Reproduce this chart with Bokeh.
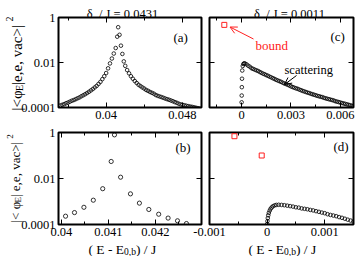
import math
from bokeh.plotting import figure
from bokeh.models import (Range1d, LinearAxis, LogAxis, FixedTicker,
                          CustomJSTickFormatter, Label, Arrow, OpenHead)
from bokeh.layouts import row, column
from bokeh.embed import file_html
from bokeh.resources import INLINE

FONT = "Liberation Serif"
RED = "#ff2020"

# ---------------- data ----------------
title_left = "δ\u00a0 / J = 0.0431"
title_right = "δ\u00a0 / J = 0.0011"
y_ticks = [1e-4, 1e-2, 1.0]

a_xticks = [0.04, 0.048]
a_xminor = [0.036, 0.044]
b_xticks = [0.04, 0.041, 0.042]
b_xminor = [0.0405, 0.0415, 0.0425]
c_xticks = [0.0, 0.003, 0.006]
c_xminor = [-0.0015, 0.0015, 0.0045]
d_xticks = [-0.001, 0.0, 0.001]
d_xminor = [-0.0005, 0.0005, 0.0015]

a_E = [0.0352, 0.0354, 0.0356, 0.0358, 0.0360, 0.0362, 0.0364, 0.0366, 0.0368, 0.0370,
       0.0372, 0.0374, 0.0376, 0.0378, 0.0380, 0.0382, 0.0384, 0.0386, 0.0388, 0.0390,
       0.0392, 0.0394, 0.0396, 0.0398, 0.0400, 0.0402, 0.0404, 0.0406, 0.0408, 0.0410,
       0.04116, 0.04126, 0.0414, 0.04155, 0.0417, 0.04185,
       0.0420, 0.0422, 0.0424, 0.0426, 0.0428, 0.0430, 0.0432, 0.0434, 0.0436, 0.0438,
       0.0440, 0.0442, 0.0444, 0.0446, 0.0448, 0.0450, 0.0452, 0.0454, 0.0456, 0.0458,
       0.0460, 0.0462, 0.0464, 0.0466, 0.0468, 0.0470, 0.0472, 0.0474, 0.0476, 0.0478,
       0.0480, 0.0482, 0.0484, 0.0486, 0.0488, 0.0490, 0.0492, 0.0494, 0.0496, 0.0498]
a_val = [1.23e-4, 1.32e-4, 1.41e-4, 1.55e-4, 1.66e-4, 1.82e-4, 2.0e-4, 2.14e-4, 2.34e-4, 2.57e-4,
         2.8e-4, 3.16e-4, 3.5e-4, 3.9e-4, 4.4e-4, 5.0e-4, 5.75e-4, 6.6e-4, 7.8e-4, 9.1e-4,
         1.12e-3, 1.38e-3, 1.82e-3, 2.45e-3, 3.4e-3, 5.5e-3, 9.1e-3, 1.5e-2, 2.5e-2, 4.4e-2,
         0.14, 0.37, 0.17, 0.056, 0.024, 0.0112,
         7.1e-3, 4.6e-3, 3.3e-3, 2.45e-3, 1.9e-3, 1.5e-3, 1.23e-3, 1.02e-3, 8.9e-4, 7.8e-4,
         6.9e-4, 6.0e-4, 5.5e-4, 4.9e-4, 4.5e-4, 4.1e-4, 3.6e-4, 3.3e-4, 3.1e-4, 2.9e-4,
         2.7e-4, 2.5e-4, 2.34e-4, 2.2e-4, 2.04e-4, 1.9e-4, 1.74e-4, 1.62e-4, 1.48e-4, 1.38e-4,
         1.32e-4, 1.26e-4, 1.2e-4, 1.15e-4, 1.1e-4, 1.07e-4, 1.02e-4, 9.8e-5, 9.3e-5, 8.9e-5]

b_E = [0.04009, 0.04028, 0.04048, 0.04068, 0.04088, 0.04106, 0.04113, 0.04126,
       0.04147, 0.04166, 0.04186, 0.04207, 0.04227, 0.04247, 0.04266]
b_val = [2.3e-4, 3.3e-4, 5.6e-4, 1.14e-3, 3.6e-3, 0.055, 0.79, 0.0114,
         2.15e-3, 8.5e-4, 4.5e-4, 2.8e-4, 1.9e-4, 1.45e-4, 1.1e-4]

c_E = [0.000003, 0.000008, 0.000015, 0.000025, 0.00004, 0.00007, 0.00011, 0.00015,
       0.0002, 0.0003, 0.0004, 0.0005, 0.0006, 0.0007, 0.0008, 0.0009, 0.0010, 0.0011,
       0.0012, 0.0013, 0.0014, 0.0015, 0.0016, 0.0017, 0.0018, 0.0019, 0.0020, 0.0021,
       0.0022, 0.0023, 0.0024, 0.0025, 0.0026, 0.0027, 0.0028, 0.0029, 0.0030, 0.0031,
       0.0032, 0.0033, 0.0034, 0.0035, 0.0036, 0.0037, 0.0038, 0.0039, 0.0040, 0.0041,
       0.0042, 0.0043, 0.0044, 0.0045, 0.0046, 0.0047, 0.0048, 0.0049, 0.0050, 0.0051,
       0.0052, 0.0053, 0.0054, 0.0055, 0.0056, 0.0057, 0.0058, 0.0059, 0.0060, 0.0061,
       0.0062, 0.0063, 0.0064, 0.0065, 0.0066, 0.0067, 0.0068]
c_val = [1.7e-4, 3.4e-4, 8.0e-4, 1.9e-3, 4.4e-3, 7.0e-3, 8.6e-3, 9.1e-3,
         9.1e-3, 8.3e-3, 7.2e-3, 6.5e-3, 5.6e-3, 5.2e-3, 4.8e-3, 4.5e-3, 4.2e-3, 3.8e-3,
         3.5e-3, 3.2e-3, 3.0e-3, 2.75e-3, 2.57e-3, 2.34e-3, 2.19e-3, 2.0e-3, 1.86e-3, 1.7e-3,
         1.58e-3, 1.48e-3, 1.38e-3, 1.26e-3, 1.17e-3, 1.1e-3, 1.02e-3, 9.5e-4, 8.7e-4, 8.1e-4,
         7.6e-4, 7.1e-4, 6.8e-4, 6.3e-4, 5.9e-4, 5.5e-4, 5.2e-4, 4.9e-4, 4.6e-4, 4.4e-4,
         4.1e-4, 3.9e-4, 3.7e-4, 3.5e-4, 3.3e-4, 3.16e-4, 3.0e-4, 2.9e-4, 2.7e-4, 2.57e-4,
         2.45e-4, 2.34e-4, 2.24e-4, 2.14e-4, 2.04e-4, 1.9e-4, 1.82e-4, 1.74e-4, 1.66e-4, 1.58e-4,
         1.51e-4, 1.45e-4, 1.38e-4, 1.32e-4, 1.26e-4, 1.2e-4, 1.15e-4]
c_bound_E = [-0.00105]
c_bound_val = [0.47]

d_E = [0.000002, 0.000006, 0.000012, 0.00002, 0.00003, 0.000045, 0.00006, 0.00008,
       0.0001, 0.00013, 0.00016, 0.0002, 0.00025, 0.0003, 0.00035, 0.0004, 0.00045,
       0.0005, 0.00055, 0.0006, 0.00065, 0.0007, 0.00075, 0.0008, 0.00085, 0.0009,
       0.00095, 0.001, 0.00105, 0.0011, 0.00115, 0.0012, 0.00125, 0.0013, 0.00135,
       0.0014, 0.00145, 0.0015]
d_val = [1.05e-4, 1.4e-4, 1.9e-4, 2.5e-4, 3.2e-4, 4.0e-4, 4.8e-4, 5.5e-4,
         6.2e-4, 6.8e-4, 7.1e-4, 7.2e-4, 7.1e-4, 6.9e-4, 6.6e-4, 6.3e-4, 6.0e-4,
         5.6e-4, 5.4e-4, 5.0e-4, 4.8e-4, 4.6e-4, 4.3e-4, 4.1e-4, 3.8e-4, 3.55e-4,
         3.3e-4, 3.1e-4, 2.8e-4, 2.6e-4, 2.45e-4, 2.3e-4, 2.1e-4, 1.95e-4, 1.78e-4,
         1.62e-4, 1.48e-4, 1.35e-4]
d_bound_E = [-0.000567, -0.0000936]
d_bound_val = [0.69, 0.10]

# ---------------- layout specs (pixels) ----------------
SA = dict(xr=(0.035, 0.05), pw=143, ph=90, bl=58, bt=17, br=4, bb=18)
SC = dict(xr=(-0.00195, 0.0068), pw=144, ph=90, bl=28, bt=17, br=4, bb=18)
SB = dict(xr=(0.03994, 0.04298), pw=143, ph=92, bl=58, bt=7, br=4, bb=32)
SD = dict(xr=(-0.001, 0.0015), pw=144, ph=92, bl=28, bt=7, br=4, bb=32)


def style_axis(ax, ticks, minor, show):
    ax.ticker = FixedTicker(ticks=ticks, minor_ticks=minor)
    ax.formatter = CustomJSTickFormatter(code="return String(tick);")
    ax.axis_line_color = None
    ax.major_tick_in = 5
    ax.major_tick_out = 0
    ax.minor_tick_in = 3
    ax.minor_tick_out = 0
    ax.major_tick_line_color = "black"
    ax.minor_tick_line_color = "black"
    ax.major_tick_line_width = 1
    ax.minor_tick_line_width = 1
    ax.major_label_text_font = FONT
    if show:
        ax.major_label_text_font_size = "12.5px"
        ax.major_label_text_color = "black"
        ax.major_label_standoff = 3
    else:
        ax.major_label_text_font_size = "1px"
        ax.major_label_text_color = None
        ax.major_label_text_alpha = 0
        ax.major_label_standoff = 0


def make_fig(s, xt, xm, show_y, right_col):
    p = figure(width=s["bl"] + s["pw"] + s["br"], height=s["bt"] + s["ph"] + s["bb"],
               x_range=Range1d(*s["xr"]), y_range=Range1d(1e-4, 1.0), y_axis_type="log",
               x_axis_location=None, y_axis_location=None,
               output_backend="svg", toolbar_location=None,
               min_border_left=s["bl"], min_border_right=s["br"],
               min_border_top=s["bt"], min_border_bottom=s["bb"],
               background_fill_color="white",
               border_fill_color=None if right_col else "white",
               outline_line_color="black", outline_line_width=2)
    p.grid.visible = False
    if right_col:
        p.margin = (0, 0, 0, -24)
    for loc, cls, ticks, minor, show in [("below", LinearAxis, xt, xm, True),
                                         ("above", LinearAxis, xt, xm, False),
                                         ("left", LogAxis, y_ticks, [], show_y),
                                         ("right", LogAxis, y_ticks, [], False)]:
        ax = cls()
        style_axis(ax, ticks, minor, show)
        p.add_layout(ax, loc)
    return p


def circles(p, xs, ys, size):
    p.scatter(xs, ys, marker="circle", size=size, fill_color=None,
              line_color="black", line_width=0.8)


def squares(p, xs, ys):
    p.scatter(xs, ys, marker="square", size=5, fill_color=None,
              line_color=RED, line_width=1)


fa = make_fig(SA, a_xticks, a_xminor, True, False)
fc = make_fig(SC, c_xticks, c_xminor, False, True)
fb = make_fig(SB, b_xticks, b_xminor, True, False)
fd = make_fig(SD, d_xticks, d_xminor, False, True)

circles(fa, a_E, a_val, 3.6)
circles(fb, b_E, b_val, 4.2)
circles(fc, c_E, c_val, 3.6)
circles(fd, d_E, d_val, 3.6)
squares(fc, c_bound_E, c_bound_val)
squares(fd, d_bound_E, d_bound_val)

# ---------------- transparent overlay for all free texts (pixel coordinates) ----------------
T = figure(width=357, height=256, x_range=Range1d(0, 357), y_range=Range1d(256, 0),
           x_axis_location=None, y_axis_location=None, min_border=0,
           output_backend="svg", toolbar_location=None,
           background_fill_color=None, border_fill_color=None, outline_line_color=None)
T.grid.visible = False
T.margin = (-256, 0, 0, 0)


def txt(x, y, text, size, color="black", angle=0.0, align="left"):
    T.add_layout(Label(x=x, y=y, text=text, text_font=FONT, text_font_size=f"{size}px",
                       text_color=color, angle=angle, text_align=align,
                       text_baseline="alphabetic"))


# titles
txt(122, 13, title_left, 12.5, align="center")
txt(289, 13, title_right, 12.5, align="center")

# panel tags
txt(173, 37, "(a)", 13)
txt(175, 147, "(b)", 13)
txt(330, 36, "(c)", 13)
txt(333, 146, "(d)", 13)

# annotations of panel (c)
txt(255, 45, "bound", 13, color=RED)
txt(284, 69, "scattering", 12.5)
T.add_layout(Arrow(x_start=253, y_start=38.5, x_end=229.5, y_end=26.5,
                   line_color=RED, line_width=1,
                   end=OpenHead(size=7, line_color=RED, line_width=1)))
T.add_layout(Arrow(x_start=296, y_start=75, x_end=284, y_end=84,
                   line_color="black", line_width=1,
                   end=OpenHead(size=7, line_color="black", line_width=1)))

# rotated y-axis labels, built from pieces (bottom to top)
R = math.pi / 2
txt(16, 110, "|<φ", 15, angle=R)
txt(18.5, 90.5, "E", 10, angle=R)
txt(16, 84.4, " |e,e, vac>|", 15, angle=R)
txt(9, 21, "2", 10, angle=R)

txt(15, 222, "|< φ", 13, angle=R)
txt(17.5, 202, "E", 9, angle=R)
txt(15, 196.5, " | e,e, vac>|", 13, angle=R)
txt(9, 138.3, "2", 9, angle=R)

# x-axis labels
for x0 in (88, 248):
    txt(x0, 248.5, "( E - E", 13.5)
    txt(x0 + 35.6, 251.5, "0,b", 9.5)
    txt(x0 + 47.5, 248.5, " ) / J", 13.5)

layout = column(row(fa, fc), row(fb, fd), T)
open("out.html", "w").write(file_html(layout, INLINE))
